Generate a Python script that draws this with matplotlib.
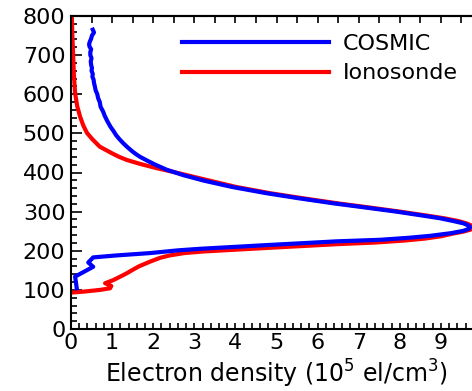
import numpy as np
import matplotlib
matplotlib.use("Agg")
import matplotlib.pyplot as plt

plt.rcParams['font.family'] = ['DejaVu Sans']

# COSMIC profile (height km, density 1e5 el/cm3)
cosmic_h = [765, 758, 750, 742, 735, 728, 722, 715, 708, 700, 692, 684, 675, 667,
            660, 652, 645, 637, 629, 620, 610, 600, 590, 580, 568, 556, 545, 532,
            517, 505, 495, 485, 475, 465, 455, 447, 440, 430, 420, 407, 393, 379,
            363, 347, 334, 321, 310, 300, 290, 283, 276, 270, 264, 260, 256, 251,
            245, 238, 233, 228, 224, 220, 215, 210, 205, 201, 194, 188, 183, 170,
            159, 134, 104]
cosmic_x = [0.53, 0.56, 0.51, 0.49, 0.46, 0.44, 0.45, 0.49, 0.47, 0.47, 0.50, 0.48,
            0.49, 0.51, 0.50, 0.53, 0.52, 0.55, 0.56, 0.58, 0.60, 0.64, 0.66, 0.70,
            0.72, 0.78, 0.82, 0.88, 0.96, 1.04, 1.10, 1.18, 1.27, 1.37, 1.48, 1.58,
            1.68, 1.86, 2.05, 2.33, 2.74, 3.24, 3.92, 4.76, 5.55, 6.40, 7.20, 7.92,
            8.55, 8.98, 9.30, 9.55, 9.68, 9.71, 9.68, 9.55, 9.25, 8.73, 8.20, 7.52,
            6.45, 5.75, 4.85, 4.00, 3.14, 2.60, 1.92, 1.10, 0.54, 0.42, 0.54, 0.10,
            0.14]

# Ionosonde profile
iono_h = [803, 760, 706, 650, 603, 570, 543, 520, 501, 485, 466, 450, 440, 432,
          422, 412, 400, 381, 363, 347, 334, 321, 310, 300, 290, 283, 276, 270,
          264, 259, 254, 249, 244, 237, 231, 226, 221, 217, 213, 208, 203, 198,
          194, 188, 182, 172, 160, 150, 142, 134, 125, 117, 110, 104, 100, 96, 93]
iono_x = [0.02, 0.03, 0.05, 0.07, 0.10, 0.15, 0.22, 0.30, 0.39, 0.52, 0.70, 0.98,
          1.17, 1.36, 1.68, 2.05, 2.55, 3.30, 4.02, 4.85, 5.65, 6.50, 7.30, 8.00,
          8.65, 9.08, 9.42, 9.62, 9.75, 9.78, 9.72, 9.55, 9.30, 9.00, 8.60, 8.10,
          7.40, 6.50, 5.80, 4.90, 4.05, 3.20, 2.75, 2.40, 2.17, 1.92, 1.65, 1.48,
          1.35, 1.20, 1.03, 0.83, 0.98, 0.95, 0.71, 0.35, 0.00]

fig = plt.figure(figsize=(4.72, 3.91), dpi=100)
ax = fig.add_axes([71/472, 62/391, 411/472, 313/391])

ax.plot(cosmic_x, cosmic_h, color='#0000ff', lw=3, label='COSMIC', zorder=3)
ax.plot(iono_x, iono_h, color='#ff0000', lw=3, label='Ionosonde', zorder=2)

ax.set_xlim(0, 10)
ax.set_ylim(0, 800)
ax.set_xticks(np.arange(0, 10, 1))
ax.set_xticks(np.arange(0, 10.01, 0.2), minor=True)
ax.set_yticks(np.arange(0, 801, 100))
ax.set_yticks(np.arange(0, 801, 20), minor=True)
ax.tick_params(axis='both', which='both', direction='in', width=1.2,
               labelsize=16, colors='black')
ax.tick_params(axis='x', which='both', length=4, pad=3)
ax.tick_params(axis='y', which='major', length=8, pad=4)
ax.tick_params(axis='y', which='minor', length=4)

top = ax.secondary_xaxis('top')
top.set_xticks(np.arange(0, 10.01, 0.5))
top.tick_params(direction='in', length=5, width=1.2, labeltop=False)
top.xaxis.set_minor_locator(matplotlib.ticker.NullLocator())

for s in ['left', 'bottom', 'top']:
    ax.spines[s].set_linewidth(1.5)
top.spines['top'].set_linewidth(1.5)
ax.spines['right'].set_visible(False)

ax.set_xlabel('Electron density (10$^5$ el/cm$^3$)', fontsize=17, labelpad=3)

ax.legend(loc='upper left', bbox_to_anchor=(0.27, 0.942), frameon=False,
          fontsize=16, handlelength=6.6, handletextpad=0.65,
          borderpad=0, borderaxespad=0, labelspacing=0.42)

fig.savefig('out.png', dpi=100)
